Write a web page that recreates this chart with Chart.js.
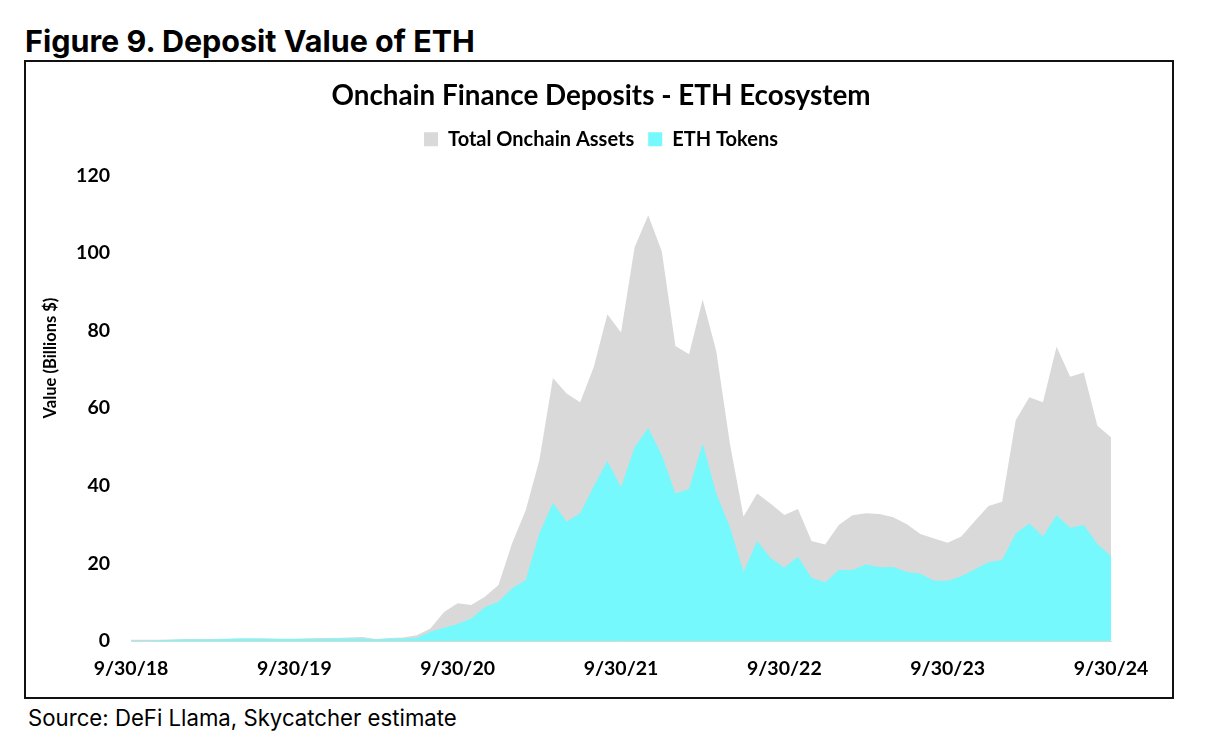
<!DOCTYPE html>
<html>
<head>
<meta charset="utf-8">
<script src="https://cdn.jsdelivr.net/npm/chart.js@4.4.1/dist/chart.umd.min.js"></script>
<style>
    body { margin: 0; background: #fff; width: 1210px; height: 738px; position: relative; overflow: hidden; }
    #fig-title { position: absolute; left: 25px; top: 22px; font: 700 30.5px Inter, sans-serif; color: #000; white-space: nowrap; }
    #box { position: absolute; left: 24px; top: 60px; width: 1150px; height: 639px; border: 2px solid #111; box-sizing: border-box; }
    #chart { display: block; }
    #source { position: absolute; left: 28px; top: 704px; font: 400 22.2px Inter, sans-serif; color: #000; white-space: nowrap; }
</style>
</head>
<body>
<div id="fig-title">Figure 9. Deposit Value of ETH</div>
<div id="box"><canvas id="chart"></canvas></div>
<div id="source">Source: DeFi Llama, Skycatcher estimate</div>
<script>
// monthly, 9/30/18 .. 9/30/24 (73 month ends)
const startYear = 2018, startMonth = 9, monthCount = 73;
const tickLabels = ['9/30/18', '9/30/19', '9/30/20', '9/30/21', '9/30/22', '9/30/23', '9/30/24'];
const yTicks = [0, 20, 40, 60, 80, 100, 120];

const totalAssets = [
    0.3, 0.3, 0.3, 0.4, 0.5, 0.5, 0.5, 0.6, 0.7, 0.7,
    0.7, 0.6, 0.6, 0.7, 0.8, 0.8, 0.9, 1.0, 0.5, 0.8,
    0.9, 1.5, 3.2, 7.5, 9.7, 9.3, 11.4, 14.4, 25.2, 33.7,
    46.6, 67.8, 63.8, 61.5, 70.6, 84.2, 79.5, 101.5, 109.7, 100.4,
    76.0, 73.9, 88.0, 74.7, 50.9, 32.1, 38.0, 35.4, 32.5, 34.0,
    25.8, 24.9, 29.9, 32.4, 32.9, 32.7, 31.9, 30.1, 27.6, 26.4,
    25.3, 26.9, 30.9, 34.8, 35.9, 56.9, 62.8, 61.5, 75.8, 68.1,
    69.2, 55.5, 52.5
];
const ethTokens = [
    0.1, 0.1, 0.2, 0.3, 0.4, 0.4, 0.4, 0.5, 0.6, 0.6,
    0.5, 0.5, 0.5, 0.5, 0.5, 0.6, 0.6, 0.6, 0.4, 0.6,
    0.6, 0.8, 2.4, 3.4, 4.4, 5.8, 8.7, 10.1, 13.6, 15.7,
    27.7, 35.6, 30.7, 32.9, 39.9, 46.4, 39.6, 49.9, 54.9, 47.9,
    38.0, 39.2, 50.9, 38.0, 29.4, 17.8, 25.8, 21.3, 18.9, 21.7,
    16.3, 15.1, 18.3, 18.3, 19.7, 19.0, 19.1, 17.8, 17.3, 15.5,
    15.5, 16.7, 18.5, 20.3, 20.9, 27.7, 30.3, 26.9, 32.4, 29.2,
    29.9, 25.0, 21.9
];

const chartTitle = 'Onchain Finance Deposits - ETH Ecosystem';
const yAxisTitle = 'Value (Billions $)';
const font = 'Lato, "Open Sans", sans-serif';

var months = [];
for (var k = 0; k < monthCount; k++) {
    var d = new Date(startYear, startMonth + k, 0);
    months.push((d.getMonth() + 1) + '/' + d.getDate() + '/' + String(d.getFullYear()).slice(2));
}

// y axis title sits a bit above the middle of the plot, drawn by hand
const yTitlePlugin = {
    id: 'yTitle',
    afterDraw(chart) {
        var ctx = chart.ctx;
        ctx.save();
        ctx.translate(24.5, 296);
        ctx.rotate(-Math.PI / 2);
        ctx.font = 'bold 16.5px ' + font;
        ctx.fillStyle = '#000';
        ctx.textAlign = 'center';
        ctx.textBaseline = 'middle';
        ctx.fillText(yAxisTitle, 0, 0);
        ctx.restore();
    }
};

new Chart(document.getElementById('chart'), {
    type: 'line',
    data: {
        labels: months,
        datasets: [{
            label: 'Total Onchain Assets',
            data: totalAssets,
            backgroundColor: '#d9d9d9',
            borderWidth: 0,
            pointRadius: 0,
            fill: 'origin',
            order: 2
        }, {
            label: 'ETH Tokens',
            data: ethTokens,
            backgroundColor: '#75f9fc',
            borderWidth: 0,
            pointRadius: 0,
            fill: 'origin',
            order: 1
        }]
    },
    options: {
        responsive: true,
        maintainAspectRatio: false,
        animation: false,
        layout: { padding: { left: 4, right: 0, top: 0, bottom: 0 } },
        plugins: {
            title: {
                display: true,
                text: chartTitle,
                color: '#000',
                font: { family: font, size: 27.8, weight: 'bold', lineHeight: 1.2 },
                padding: { top: 17, bottom: 3 }
            },
            subtitle: {
                // spacer between legend and plot
                display: true,
                text: '',
                weight: 500,
                font: { size: 16, lineHeight: 1 },
                padding: 0
            },
            legend: {
                position: 'top',
                labels: {
                    color: '#000',
                    font: { family: font, size: 20, weight: 'bold' },
                    boxWidth: 14,
                    boxHeight: 14,
                    padding: 14,
                    sort: function(a, b) { return a.datasetIndex - b.datasetIndex; }
                }
            },
            tooltip: { enabled: false }
        },
        scales: {
            x: {
                grid: { display: false, drawTicks: false },
                border: { display: true, color: '#d9d9d9' },
                ticks: {
                    autoSkip: false,
                    maxRotation: 0,
                    padding: 16,
                    color: '#000',
                    font: { family: font, size: 19.5, weight: 'bold' },
                    callback: function(v, i) { return i % 12 === 0 ? tickLabels[i / 12] : ''; }
                },
                afterFit: function(scale) { scale.height = 56; }
            },
            y: {
                min: 0,
                max: 120,
                afterBuildTicks: function(scale) { scale.ticks = yTicks.map(function(v) { return { value: v }; }); },
                grid: { display: false, drawTicks: false },
                border: { display: false },
                ticks: {
                    padding: 21,
                    color: '#000',
                    font: { family: font, size: 19.5, weight: 'bold' }
                },
                afterFit: function(scale) { scale.width = 101; }
            },
            // empty axis on the right, only keeps the plot clear of the frame
            yRight: {
                position: 'right',
                min: 0,
                max: 120,
                grid: { display: false, drawTicks: false },
                border: { display: false },
                ticks: { display: false },
                afterFit: function(scale) { scale.width = 61; }
            }
        }
    },
    plugins: [yTitlePlugin]
});
</script>
</body>
</html>
